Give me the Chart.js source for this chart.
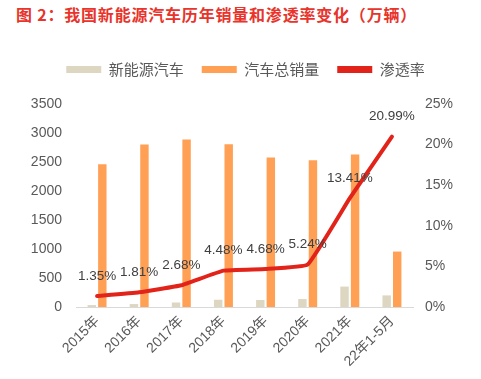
<!DOCTYPE html>
<html><head><meta charset="utf-8">
<script src="https://cdn.jsdelivr.net/npm/chart.js@4/dist/chart.umd.min.js"></script>
<style>
html,body{margin:0;padding:0;background:#fff;}
#wrap{position:relative;width:481px;height:379px;}
#title{position:absolute;left:16px;top:2px;font:bold 16px "Noto Sans CJK SC","Liberation Sans",sans-serif;color:#E8342B;white-space:nowrap;letter-spacing:0.8px;}
canvas{position:absolute;left:0;top:0;}
</style></head>
<body>
<div id="wrap">
<div id="title">图 2：我国新能源汽车历年销量和渗透率变化（万辆）</div>
<canvas id="c" width="481" height="379"></canvas>
</div>
<script>
const categories = ["2015年","2016年","2017年","2018年","2019年","2020年","2021年","22年1-5月"];
const nevSales = [33.1, 50.7, 77.7, 125.6, 120.6, 136.7, 352.1, 200.3];
const totalSales = [2459.8, 2802.8, 2887.9, 2808.1, 2576.9, 2531.1, 2627.5, 955.8];
const penetration = [1.35, 1.81, 2.68, 4.48, 4.68, 5.24, 13.41, 20.99];
const leftTicks = [0, 500, 1000, 1500, 2000, 2500, 3000, 3500];
const rightTicks = [0, 5, 10, 15, 20, 25];

const FONT = '"Liberation Sans","Noto Sans CJK SC",sans-serif';
const TXT = '#595959';

const labelPlugin = {
  id: 'pctLabels',
  afterDatasetsDraw(chart) {
    const meta = chart.getDatasetMeta(2);
    const ctx = chart.ctx;
    ctx.save();
    ctx.font = '13.5px ' + FONT;
    ctx.fillStyle = '#404040';
    ctx.textAlign = 'center';
    ctx.textBaseline = 'middle';
    meta.data.forEach((pt, i) => {
      ctx.fillText(penetration[i].toFixed(2) + '%', pt.x, pt.y - 20);
    });
    ctx.restore();
  }
};

const spacerPlugin = {
  id: 'legendSpacer',
  beforeInit(chart) {
    const box = {
      position: 'top', weight: 500, fullSize: true, options: {},
      left: 0, top: 0, right: 0, bottom: 0, width: 0, height: 0,
      isHorizontal() { return true; },
      update(maxWidth) { this.width = maxWidth; this.height = 17; },
      draw() {}
    };
    Chart.layouts.addBox(chart, box);
  }
};

new Chart(document.getElementById('c'), {
  data: {
    labels: categories,
    datasets: [
      { type: 'bar', label: '新能源汽车', data: nevSales, backgroundColor: '#DDD6C0', yAxisID: 'y', order: 2,
        categoryPercentage: 0.5, barPercentage: 0.8 },
      { type: 'bar', label: '汽车总销量', data: totalSales, backgroundColor: '#FFA055', yAxisID: 'y', order: 2,
        categoryPercentage: 0.5, barPercentage: 0.8 },
      { type: 'line', label: '渗透率', data: penetration, borderColor: '#E2231A', backgroundColor: '#E2231A',
        borderWidth: 4, pointRadius: 0, tension: 0.1, yAxisID: 'y1', order: 0, borderCapStyle: 'round', borderJoinStyle: 'round' }
    ]
  },
  options: {
    responsive: false,
    animation: false,
    layout: { padding: { top: 44, left: 10, right: 0, bottom: 0 } },
    plugins: {
      tooltip: { enabled: false },
      legend: {
        position: 'top',
        labels: {
          boxWidth: 35, boxHeight: 7, padding: 18,
          font: { size: 15, family: '"Noto Sans CJK SC",sans-serif' },
          color: TXT,
          generateLabels(chart) {
            return chart.data.datasets.map((ds, i) => ({
              text: ds.label, fillStyle: ds.type === 'line' ? ds.borderColor : ds.backgroundColor,
              strokeStyle: ds.type === 'line' ? ds.borderColor : ds.backgroundColor,
              lineWidth: 0, hidden: false, datasetIndex: i, fontColor: TXT
            }));
          }
        }
      }
    },
    scales: {
      x: {
        grid: { display: false, drawTicks: false },
        border: { display: true, color: '#D9D9D9', width: 1 },
        ticks: { font: { size: 14, family: FONT }, color: TXT, maxRotation: 45, minRotation: 45, padding: 6 },
        afterFit(s) { s.height = 72; }
      },
      y: {
        position: 'left', min: 0, max: 3500,
        grid: { display: false, drawTicks: false },
        border: { display: false },
        afterBuildTicks(s) { s.ticks = leftTicks.map(v => ({ value: v })); },
        ticks: { font: { size: 14, family: FONT }, color: TXT, padding: 14, callback: v => String(v) },
        afterFit(s) { s.width = 66; }
      },
      y1: {
        position: 'right', min: 0, max: 25,
        grid: { display: false, drawTicks: false },
        border: { display: false },
        afterBuildTicks(s) { s.ticks = rightTicks.map(v => ({ value: v })); },
        ticks: { font: { size: 14, family: FONT }, color: TXT, padding: 12, callback: v => v + '%' },
        afterFit(s) { s.width = 68; }
      }
    }
  },
  plugins: [labelPlugin, spacerPlugin]
});
</script>
</body></html>
